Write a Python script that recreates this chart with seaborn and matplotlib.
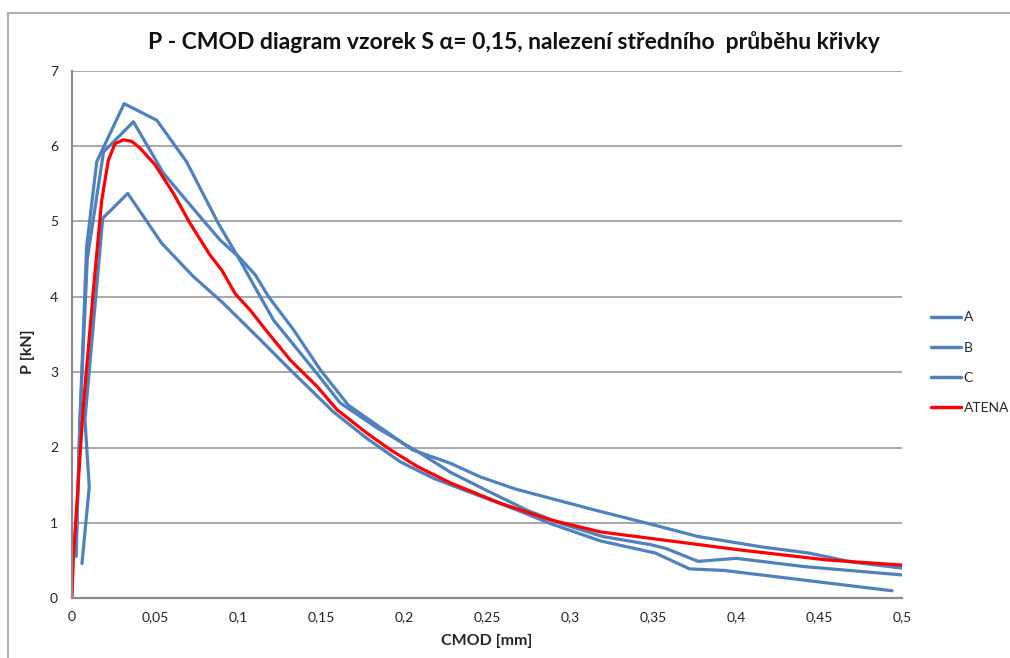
import matplotlib
matplotlib.use("Agg")
import matplotlib.pyplot as plt
from matplotlib.lines import Line2D
from matplotlib.ticker import FuncFormatter
import numpy as np
import pandas as pd
import seaborn as sns

# Measured P-CMOD curves (CMOD in mm, P in kN)
a_cmod = [0.0024, 0.0048, 0.0088, 0.0149, 0.0314, 0.0511, 0.069, 0.0882, 0.101,
          0.1134, 0.1214, 0.1476, 0.1616, 0.1838, 0.2101, 0.2281, 0.2507, 0.275,
          0.2949, 0.3196, 0.3489, 0.3579, 0.3772, 0.4002, 0.4414, 0.5]
a_p = [0.56, 2.37, 4.66, 5.79, 6.56, 6.34, 5.79, 4.97, 4.49,
       4.0, 3.69, 2.98, 2.59, 2.26, 1.92, 1.67, 1.42, 1.16,
       0.99, 0.82, 0.71, 0.66, 0.49, 0.53, 0.42, 0.31]

b_cmod = [0.0024, 0.0048, 0.0092, 0.019, 0.037, 0.055, 0.0772, 0.0893,
          0.1013, 0.1104, 0.1184, 0.1335, 0.1496, 0.1665, 0.205, 0.228, 0.246,
          0.267, 0.315, 0.351, 0.377, 0.416, 0.444, 0.47, 0.5]
b_p = [0.56, 2.37, 4.5, 5.92, 6.32, 5.64, 5.06, 4.75,
       4.51, 4.29, 4.0, 3.56, 3.03, 2.56, 1.97, 1.79, 1.61,
       1.45, 1.17, 0.97, 0.82, 0.68, 0.60, 0.48, 0.40]

c_cmod = [0.006, 0.0104, 0.0078, 0.0185, 0.0336, 0.054, 0.073, 0.0913,
          0.1134, 0.1315, 0.1576, 0.1777, 0.1978, 0.2179, 0.2441, 0.2682, 0.2883,
          0.3185, 0.3515, 0.372, 0.3926, 0.4414, 0.494]
c_p = [0.46, 1.48, 2.37, 5.04, 5.37, 4.71, 4.27, 3.91,
       3.43, 3.03, 2.47, 2.12, 1.81, 1.59, 1.37, 1.17, 0.99,
       0.76, 0.60, 0.39, 0.37, 0.24, 0.10]

# ATENA simulation (mean curve)
atena_cmod = [0.0, 0.0008, 0.0068, 0.0129, 0.0179, 0.0219, 0.0259, 0.031, 0.036,
              0.041, 0.05, 0.0611, 0.0712, 0.0832, 0.0903, 0.0983, 0.1074, 0.1174,
              0.1315, 0.1476, 0.1597, 0.1777, 0.1918, 0.2079, 0.228, 0.2581, 0.2883,
              0.3185, 0.3643, 0.4029, 0.4542, 0.5]
atena_p = [0.0, 0.55, 2.54, 4.09, 5.28, 5.81, 6.03, 6.08, 6.06,
           5.97, 5.75, 5.37, 4.97, 4.55, 4.35, 4.04, 3.82, 3.54,
           3.16, 2.81, 2.50, 2.19, 1.97, 1.75, 1.53, 1.26, 1.04,
           0.88, 0.75, 0.64, 0.51, 0.44]

series_names = ["A", "B", "C", "ATENA"]
x_ticks = [0, 0.05, 0.1, 0.15, 0.2, 0.25, 0.3, 0.35, 0.4, 0.45, 0.5]
y_ticks = [0, 1, 2, 3, 4, 5, 6, 7]

frames = []
for name, xs, ys in zip(series_names,
                        [a_cmod, b_cmod, c_cmod, atena_cmod],
                        [a_p, b_p, c_p, atena_p]):
    frames.append(pd.DataFrame({"CMOD": xs, "P": ys, "serie": name,
                                "order": np.arange(len(xs))}))
df = pd.concat(frames, ignore_index=True)

sns.set_style("white")
plt.rcParams["font.family"] = ["Lato", "DejaVu Sans"]

blue = "#4F81BD"
red = "#FF0000"
palette = {"A": blue, "B": blue, "C": blue, "ATENA": red}

fig = plt.figure(figsize=(10.1, 6.58), dpi=100)
ax = fig.add_axes([72 / 1010, (658 - 598.3) / 658, 830 / 1010, 527.8 / 658])

sns.lineplot(data=df, x="CMOD", y="P", hue="serie", units="serie",
             estimator=None, sort=False, palette=palette, linewidth=2.3,
             legend=False, ax=ax, hue_order=series_names)

ax.set_xlim(0, 0.5)
ax.set_ylim(0, 7)
ax.set_xticks(x_ticks)
ax.set_yticks(y_ticks)
ax.xaxis.set_major_formatter(FuncFormatter(lambda v, p: f"{v:g}".replace(".", ",")))
ax.yaxis.set_major_formatter(FuncFormatter(lambda v, p: f"{v:g}"))
ax.tick_params(axis="both", length=0, labelsize=10, colors="#222222")
ax.tick_params(axis="x", pad=9)
ax.tick_params(axis="y", pad=10)
ax.yaxis.grid(True, color="#9a9a9a", linewidth=1.2)
ax.xaxis.grid(False)
ax.set_axisbelow(True)
for side in ["top", "right"]:
    ax.spines[side].set_visible(False)
for side in ["left", "bottom"]:
    ax.spines[side].set_color("#8c8c8c")
    ax.spines[side].set_linewidth(1.6)

ax.set_xlabel("CMOD [mm]", fontsize=11.5, fontweight="bold", labelpad=8)
ax.set_ylabel("P [kN]", fontsize=11.5, fontweight="bold")
ax.yaxis.set_label_coords(-0.045, 0.467)

fig.text(0.509, 0.936, "P - CMOD diagram vzorek S α= 0,15, nalezení středního  průběhu křivky",
         ha="center", va="center", fontsize=16.5, fontweight="bold", color="#111111")

handles = [Line2D([0], [0], color=palette[n], linewidth=2.5) for n in series_names]
leg = fig.legend(handles, series_names, loc="center left",
                 bbox_to_anchor=(918 / 1010, 0.449), frameon=False,
                 fontsize=10, handlelength=2.2, handletextpad=0.2,
                 labelspacing=1.3)

# Chart frame (left and top edges)
fig.add_artist(Line2D([8 / 1010, 8 / 1010], [0, 1 - 13 / 658],
                      transform=fig.transFigure, color="#b0b0b0", linewidth=1.5))
fig.add_artist(Line2D([8 / 1010, 1], [1 - 13 / 658, 1 - 13 / 658],
                      transform=fig.transFigure, color="#b0b0b0", linewidth=1.5))

fig.savefig("out.png", dpi=100)
